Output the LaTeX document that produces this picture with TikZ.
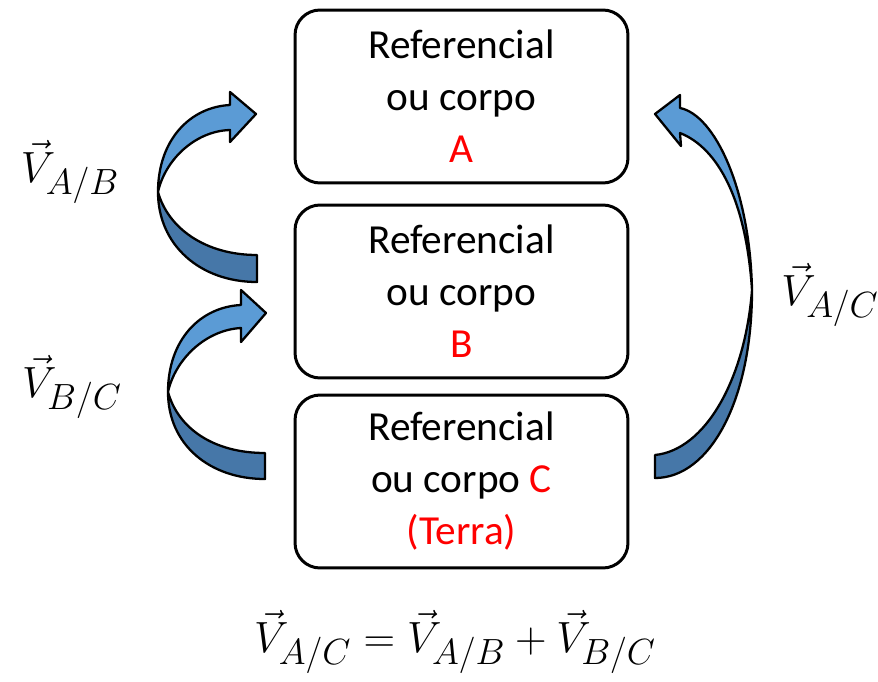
\documentclass[tikz,border=0pt]{standalone}
\usepackage{amsmath}
\usepackage{fontspec}
\setmainfont{Carlito}
\definecolor{bandlight}{HTML}{5B9BD5}
\definecolor{banddark}{HTML}{4677A8}
\tikzset{
every node/.style={inner sep=2pt},
frame/.style={rectangle, draw, rounded corners=0.5cm, line width=1.7pt,
  minimum width=6.66cm, minimum height=3.46cm, align=center,
  font=\fontsize{23.5}{29.6}\selectfont},
vlabel/.style={font=\fontsize{28}{32}\selectfont},
frontband/.style={fill=bandlight, draw=black, line width=1.3pt, line join=round},
backband/.style={fill=banddark, draw=black, line width=1.3pt, line join=round}
}

\begin{document}
\begin{tikzpicture}[x=0.02cm, y=-0.02cm]
\useasboundingbox (0,0) rectangle (878,682);

% the three frames
\node [frame] (A) at (461.5,96.5) {Referencial\\ou corpo\\\textcolor{red}{A}};
\node [frame] (B) at (461.5,291.5) {Referencial\\ou corpo\\\textcolor{red}{B}};
\node [frame] (C) at (461.5,481.5) {Referencial\\ou corpo \textcolor{red}{C}\\\textcolor{red}{(Terra)}};

% curved arrow B -> A
\draw[backband] (257,255) -- (257,282) .. controls (200,282) and (158,245) .. (158,192)
  .. controls (168,228) and (205,255) .. (257,255) -- cycle;
\draw[frontband] (158,192) .. controls (158,140) and (190,107) .. (230,105) -- (230,92)
  -- (256,114) -- (230,142) -- (230,130) .. controls (195,131) and (165,160) .. (158,192) -- cycle;

% curved arrow C -> B
\draw[backband] (265,453) -- (265,479) .. controls (210,479) and (168,445) .. (168,392)
  .. controls (178,428) and (213,453) .. (265,453) -- cycle;
\draw[frontband] (168,392) .. controls (168,340) and (200,307) .. (241,305) -- (241,290)
  -- (266,313) -- (241,342) -- (241,328) .. controls (205,330) and (175,360) .. (168,392) -- cycle;

% curved arrow C -> A
\draw[backband] (752,290) .. controls (752,400) and (710,478) .. (655,478) -- (655,455)
  .. controls (705,450) and (745,380) .. (752,290) -- cycle;
\draw[frontband] (680,108) .. controls (715,115) and (750,190) .. (752,290)
  .. controls (746,200) and (718,148) .. (680,133) -- (681,146) -- (655,114) -- (680,95) -- cycle;

% labels
\node [vlabel] (vab) at (70,172) {$\vec{V}_{A/B}$};
\node [vlabel] (vbc) at (72,387) {$\vec{V}_{B/C}$};
\node [vlabel] (vac) at (830,295) {$\vec{V}_{A/C}$};
\node [vlabel] (sum) at (455,642) {$\vec{V}_{A/C} = \vec{V}_{A/B} + \vec{V}_{B/C}$};
\end{tikzpicture}
\end{document}
